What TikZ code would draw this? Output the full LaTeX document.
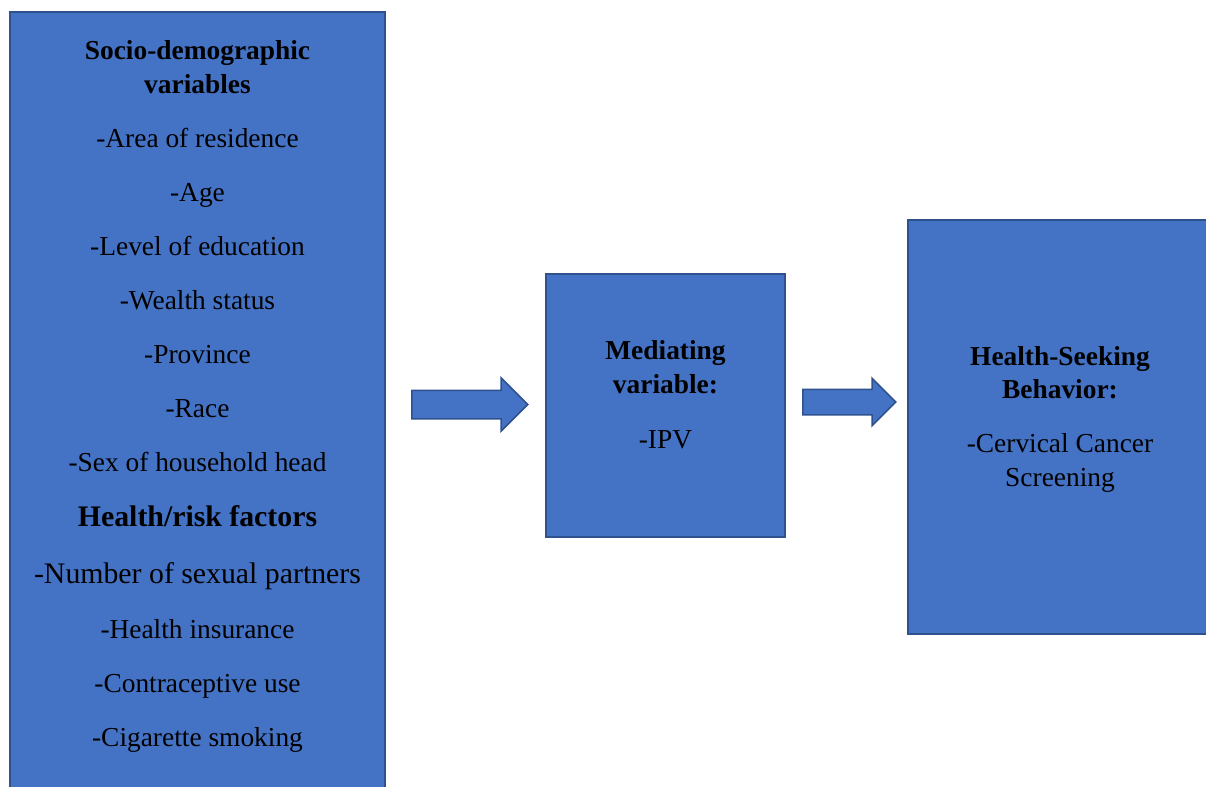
\documentclass[tikz,border=0pt]{standalone}
\usepackage{fontspec}
\setmainfont{Liberation Serif}
\usepackage{xcolor}
\definecolor{boxfill}{HTML}{4472C4}
\definecolor{boxline}{HTML}{2F528F}
\usetikzlibrary{shapes.arrows}
\tikzset{
  panel/.style={draw=boxline,fill=boxfill,line width=1pt,inner sep=0pt},
  txt/.style={font=\fontsize{13.7}{16}\selectfont,anchor=base,inner sep=0pt},
  hd/.style={txt,font=\fontsize{13.7}{16}\selectfont\bfseries},
  bigtxt/.style={txt,font=\fontsize{14.9}{18}\selectfont},
  bighd/.style={txt,font=\fontsize{14.9}{18}\selectfont\bfseries},
  blockarr/.style={single arrow,draw=boxline,fill=boxfill,line width=0.75pt,inner sep=0pt,text depth=0pt,anchor=tail,single arrow tip angle=90},
}
\begin{document}
\begin{tikzpicture}[x=0.5pt,y=-0.5pt]
\useasboundingbox (0,0) rectangle (1206,787);
% boxes
\node[panel,minimum width=187.5pt,minimum height=394pt] (sd) at (197.5,406) {};
\node[panel,minimum width=119.5pt,minimum height=131.5pt] (med) at (665.5,405.5) {};
\node[panel,minimum width=152pt,minimum height=207pt] (hsb) at (1060,427) {};
% arrows
\node[blockarr,minimum height=58pt,text height=13.5pt,single arrow head extend=6.25pt] (a1) at (411,404.5) {};
\node[blockarr,minimum height=46.5pt,text height=12pt,single arrow head extend=5.5pt] (a2) at (802,402) {};
% left box text
\node[hd] (sd1) at (197.5,60) {Socio-demographic};
\node[hd] (sd2) at (197.5,93) {variables};
\node[txt] (v1) at (197.5,147) {-Area of residence};
\node[txt] (v2) at (197.5,201) {-Age};
\node[txt] (v3) at (197.5,255) {-Level of education};
\node[txt] (v4) at (197.5,309) {-Wealth status};
\node[txt] (v5) at (197.5,363) {-Province};
\node[txt] (v6) at (197.5,417) {-Race};
\node[txt] (v7) at (197.5,471) {-Sex of household head};
\node[bighd] (hr) at (197.5,526) {Health/risk factors};
\node[bigtxt] (r1) at (197.5,583) {-Number of sexual partners};
\node[txt] (r2) at (197.5,638) {-Health insurance};
\node[txt] (r3) at (197.5,692) {-Contraceptive use};
\node[txt] (r4) at (197.5,746) {-Cigarette smoking};
% middle box text
\node[hd] (m1) at (665.5,359) {Mediating};
\node[hd] (m2) at (665.5,393) {variable:};
\node[txt] (m3) at (665.5,448) {-IPV};
% right box text
\node[hd] (h1) at (1060,365) {Health-Seeking};
\node[hd] (h2) at (1060,398) {Behavior:};
\node[txt] (h3) at (1060,452) {-Cervical Cancer};
\node[txt] (h4) at (1060,486) {Screening};
\end{tikzpicture}
\end{document}
